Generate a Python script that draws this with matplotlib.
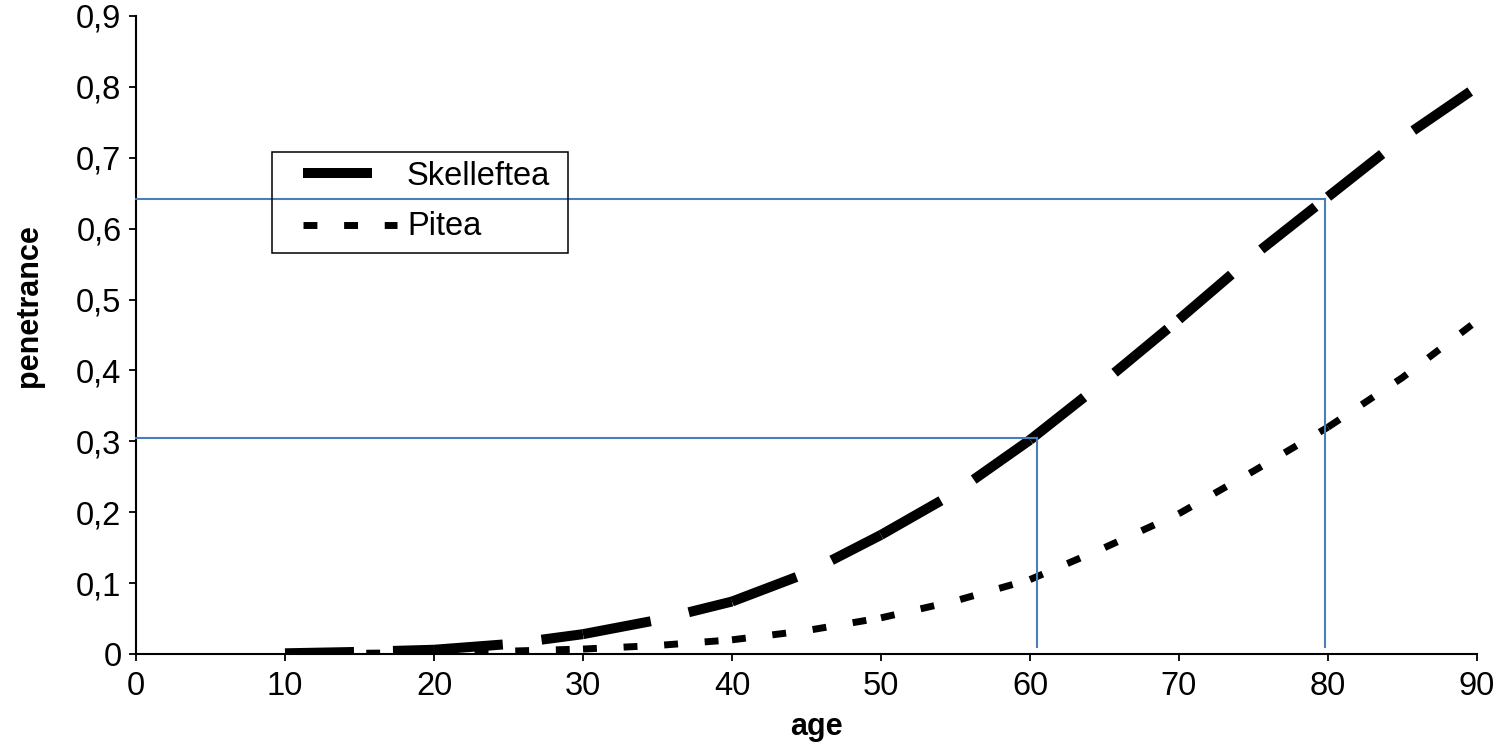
import matplotlib
matplotlib.use("Agg")
import matplotlib.pyplot as plt
from matplotlib.lines import Line2D
from matplotlib.patches import Rectangle

# ---- data ----
ages = [10, 15, 20, 25, 30, 35, 40, 45, 50, 55, 60, 65, 70, 75, 80, 85, 90]
skelleftea = [0.001, 0.003, 0.006, 0.014, 0.028, 0.048, 0.074, 0.114, 0.168,
              0.228, 0.302, 0.385, 0.472, 0.562, 0.645, 0.728, 0.800]
pitea = [0.0003, 0.001, 0.002, 0.004, 0.007, 0.012, 0.020, 0.033, 0.051,
         0.075, 0.105, 0.150, 0.198, 0.258, 0.320, 0.390, 0.470]
series_names = ["Skelleftea", "Pitea"]

# reference (guide) points marked in blue
ref_ages = [60.45, 79.8]
ref_pen = [0.305, 0.642]
guide_bottom = 0.01

xticks = [0, 10, 20, 30, 40, 50, 60, 70, 80, 90]
yticks = [0, 0.1, 0.2, 0.3, 0.4, 0.5, 0.6, 0.7, 0.8, 0.9]
ytick_labels = ["0", "0,1", "0,2", "0,3", "0,4", "0,5", "0,6", "0,7", "0,8", "0,9"]
xlabel = "age"
ylabel = "penetrance"

# ---- figure ----
W, H = 1498, 745
plt.rcParams['font.family'] = ['Liberation Sans', 'DejaVu Sans']
fig = plt.figure(figsize=(W / 100, H / 100), dpi=100, facecolor='white')
ax = fig.add_axes([136 / W, 1 - 654 / H, 1341 / W, 638 / H])

sk_style = dict(color='black', lw=7.2, dashes=(6.9, 3.9), solid_capstyle='butt',
                dash_capstyle='butt')
pi_style = dict(color='black', lw=5.0, dashes=(2.0, 3.85), solid_capstyle='butt',
                dash_capstyle='butt')

# Excel restarts the dash pattern at every 10-year data point: draw per segment
for vals, style in ((skelleftea, sk_style), (pitea, pi_style)):
    for k in range(0, len(ages) - 1, 2):
        ax.plot(ages[k:k + 3], vals[k:k + 3], **style, zorder=2)

blue = '#4A7EBB'
for xa, yp in zip(ref_ages, ref_pen):
    ax.plot([0, xa], [yp, yp], color=blue, lw=1.5, zorder=3, clip_on=False)
    ax.plot([xa, xa], [guide_bottom, yp], color=blue, lw=1.5, zorder=3, clip_on=False)

ax.set_xlim(0, 90)
ax.set_ylim(0, 0.9)
ax.set_xticks(xticks)
ax.set_xticklabels([str(v) for v in xticks])
ax.set_yticks(yticks)
ax.set_yticklabels(ytick_labels)
for s in ('top', 'right'):
    ax.spines[s].set_visible(False)
for s in ('left', 'bottom'):
    ax.spines[s].set_linewidth(1.5)
    ax.spines[s].set_color('black')
ax.tick_params(axis='both', direction='out', length=5, width=1.3, labelsize=23.5,
               colors='black')
ax.tick_params(axis='y', pad=5.5)
ax.tick_params(axis='x', pad=7)

fig.text(29 / W, 1 - 306 / H, ylabel, rotation=90, ha='center', va='center',
         fontsize=22, fontweight='bold')
fig.text(816 / W, 1 - 727 / H, xlabel, ha='center', va='center',
         fontsize=22, fontweight='bold')

# ---- legend box ----
fig.patches.append(Rectangle((272 / W, 1 - 253 / H), 296 / W, 101 / H,
                             transform=fig.transFigure, fill=False,
                             edgecolor='black', lw=1.1))
for yrow, style, name, ybase in ((173, sk_style, series_names[0], 185),
                                 (225, pi_style, series_names[1], 235)):
    fig.lines.append(Line2D([303 / W, 397 / W], [1 - yrow / H, 1 - yrow / H],
                            transform=fig.transFigure, **style))
    fig.text(407 / W, 1 - ybase / H, name, ha='left', va='baseline', fontsize=23.5)

fig.savefig('out.png', dpi=100, facecolor='white')
